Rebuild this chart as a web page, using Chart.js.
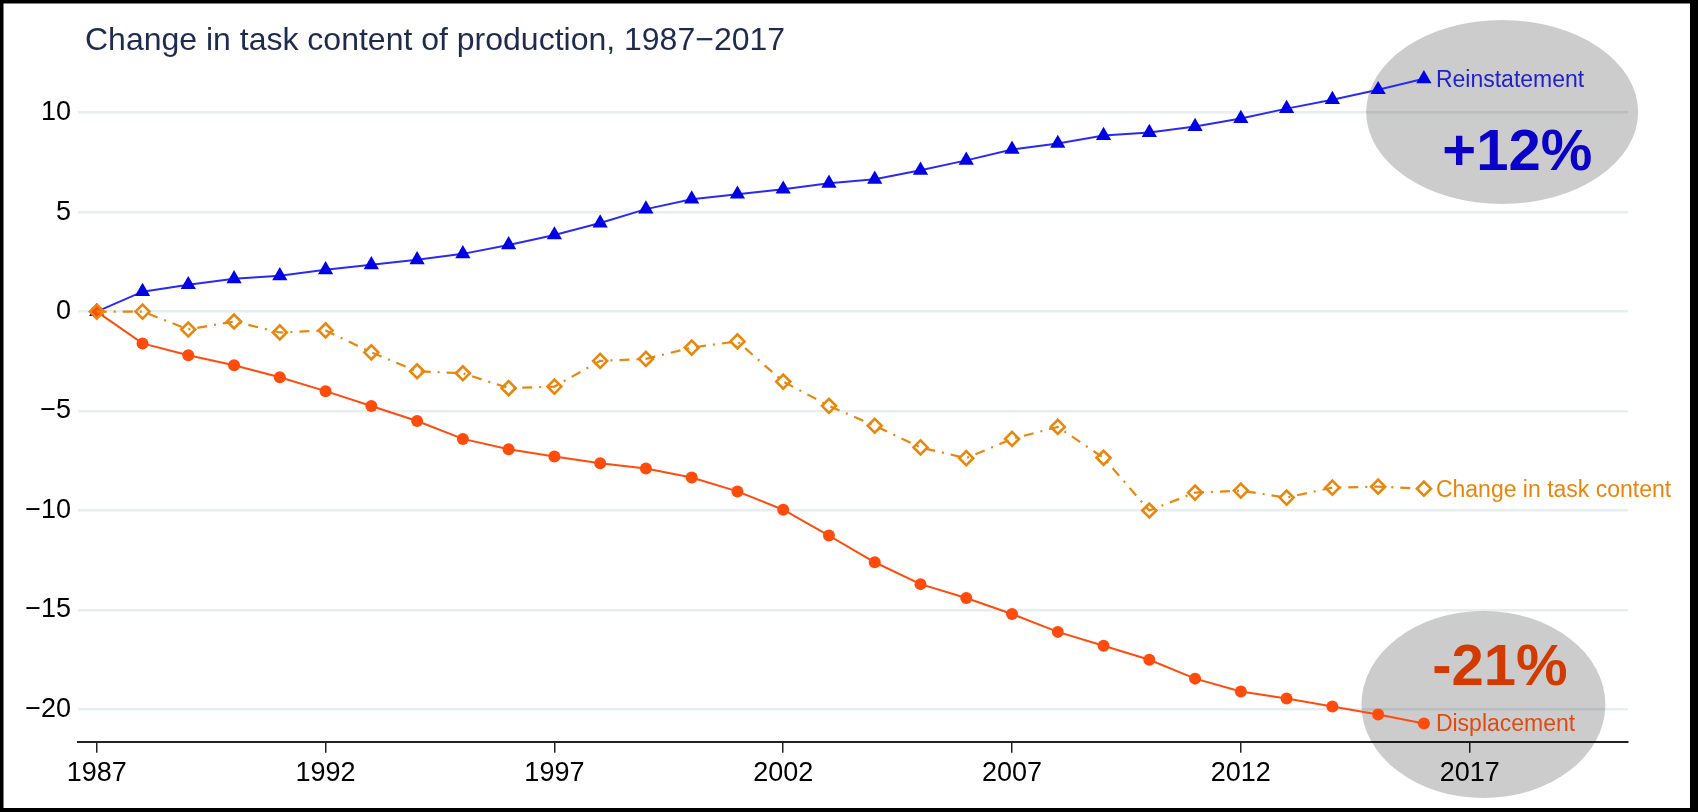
<!DOCTYPE html>
<html>
<head>
<meta charset="utf-8">
<script src="https://cdn.jsdelivr.net/npm/chart.js@4/dist/chart.umd.min.js"></script>
<style>
html,body{margin:0;padding:0;background:#fff;overflow:hidden;}
#wrap{position:relative;width:1698px;height:812px;}
</style>
</head>
<body>
<div id="wrap"><canvas id="c"></canvas></div>
<script>
// ---- data ----
const years = [1987,1988,1989,1990,1991,1992,1993,1994,1995,1996,1997,1998,1999,2000,2001,2002,2003,2004,2005,2006,2007,2008,2009,2010,2011,2012,2013,2014,2015,2016];
const reinstatement = [0,1.0,1.35,1.65,1.8,2.1,2.35,2.6,2.9,3.35,3.85,4.45,5.15,5.65,5.9,6.15,6.45,6.65,7.1,7.6,8.15,8.45,8.85,9.0,9.3,9.7,10.2,10.65,11.15,11.7];
const displacement = [0,-1.6,-2.2,-2.7,-3.3,-4.0,-4.75,-5.5,-6.4,-6.92,-7.28,-7.62,-7.89,-8.34,-9.04,-9.96,-11.26,-12.6,-13.7,-14.4,-15.2,-16.1,-16.8,-17.5,-18.45,-19.1,-19.45,-19.85,-20.25,-20.7];
const taskChange = [0,0,-0.9,-0.5,-1.05,-0.95,-2.05,-3.0,-3.1,-3.85,-3.77,-2.48,-2.38,-1.81,-1.5,-3.52,-4.74,-5.74,-6.83,-7.37,-6.4,-5.8,-7.35,-10.0,-9.1,-9.0,-9.35,-8.85,-8.8,-8.9];
const xTickYears = [1987,1992,1997,2002,2007,2012,2017];
const yTickValues = [-20,-15,-10,-5,0,5,10];
const titleText = 'Change in task content of production, 1987\u22122017';
const seriesNames = ['Change in task content','Displacement','Reinstatement'];
const calloutTexts = ['+12%','-21%'];

const FONT = '"Liberation Sans", Arial, Helvetica, sans-serif';
const toPts = (vals) => years.map((yr, i) => ({x: yr, y: vals[i]}));

const decor = {
  id: 'decor',
  beforeDatasetsDraw(chart) {
    const {ctx, scales: {x, y}} = chart;
    ctx.save();
    ctx.fillStyle = 'rgba(0,0,0,0.2)';
    const ells = [
      {cx: 2017.71, cy: 10.03, rx: 136, ry: 92},
      {cx: 2017.3, cy: -19.75, rx: 122, ry: 93.5}
    ];
    ells.forEach(e => {
      ctx.beginPath();
      ctx.ellipse(x.getPixelForValue(e.cx), y.getPixelForValue(e.cy), e.rx, e.ry, 0, 0, Math.PI * 2);
      ctx.fill();
    });
    ctx.restore();
  },
  afterDatasetsDraw(chart) {
    const {ctx, scales: {x, y}} = chart;
    ctx.save();
    const colors = ['#e8860c', '#e04a12', '#2020cc'];
    chart.data.datasets.forEach((ds, i) => {
      const meta = chart.getDatasetMeta(i);
      const last = meta.data[meta.data.length - 1];
      ctx.font = '23px ' + FONT;
      ctx.fillStyle = colors[i];
      ctx.textAlign = 'left';
      ctx.textBaseline = 'alphabetic';
      ctx.fillText(seriesNames[i], last.x + 12, last.y + 8);
    });
    ctx.font = 'bold 58px ' + FONT;
    ctx.textAlign = 'center';
    ctx.fillStyle = '#0a00c8';
    ctx.fillText(calloutTexts[0], x.getPixelForValue(2018.04), y.getPixelForValue(7.12));
    ctx.fillStyle = '#d13b00';
    ctx.fillText(calloutTexts[1], x.getPixelForValue(2017.66), y.getPixelForValue(-18.77));
    ctx.restore();
  },
  afterDraw(chart) {
    const {ctx} = chart;
    ctx.save();
    ctx.font = '32px ' + FONT;
    ctx.fillStyle = '#1f2a4f';
    ctx.textAlign = 'left';
    ctx.textBaseline = 'alphabetic';
    ctx.fillText(titleText, 85, 50);
    ctx.fillStyle = '#000';
    ctx.fillRect(0, 0, 1698, 3.5);
    ctx.fillRect(0, 0, 3.5, 812);
    ctx.fillRect(0, 808, 1698, 4);
    ctx.fillRect(1690, 0, 8, 812);
    ctx.restore();
  }
};

new Chart(document.getElementById('c'), {
  type: 'line',
  data: {
    datasets: [
      {
        label: seriesNames[0],
        data: toPts(taskChange),
        borderColor: '#e8870c',
        borderWidth: 2.2,
        borderDash: [10, 7, 2, 7],
        pointStyle: 'rectRot',
        pointRadius: 7,
        pointBorderWidth: 2.6,
        pointBorderColor: '#e8870c',
        pointBackgroundColor: 'rgba(0,0,0,0)',
        tension: 0,
        clip: false
      },
      {
        label: seriesNames[1],
        data: toPts(displacement),
        borderColor: '#ff4c0c',
        borderWidth: 2,
        pointStyle: 'circle',
        pointRadius: 6,
        pointBorderWidth: 0,
        pointBackgroundColor: '#ff4c0c',
        tension: 0,
        clip: false
      },
      {
        label: seriesNames[2],
        data: toPts(reinstatement),
        borderColor: '#2a2af0',
        borderWidth: 2,
        pointStyle: 'triangle',
        pointRadius: 8.8,
        pointBorderWidth: 0,
        pointBackgroundColor: '#0000e6',
        tension: 0,
        clip: false
      }
    ]
  },
  options: {
    responsive: true,
    maintainAspectRatio: false,
    animation: false,
    devicePixelRatio: 1,
    layout: {padding: {top: 60, right: 70, left: 0, bottom: 0}},
    plugins: {legend: {display: false}, title: {display: false}, tooltip: {enabled: false}},
    scales: {
      x: {
        type: 'linear',
        min: 1986.59,
        max: 2020.46,
        afterBuildTicks: (s) => { s.ticks = xTickYears.map(v => ({value: v})); },
        afterFit: (s) => { s.height = 70.3; },
        ticks: {
          color: '#000',
          font: {family: FONT, size: 27},
          padding: 5,
          maxRotation: 0,
          autoSkip: false,
          callback: (v) => String(v)
        },
        grid: {
          drawOnChartArea: false,
          drawTicks: true,
          tickLength: 11,
          color: '#222',
          lineWidth: 1.5
        },
        border: {display: true, color: '#222', width: 2}
      },
      y: {
        type: 'linear',
        min: -21.62,
        max: 12.644,
        afterBuildTicks: (s) => { s.ticks = yTickValues.map(v => ({value: v})); },
        afterFit: (s) => { s.width = 78; },
        ticks: {
          color: '#000',
          font: {family: FONT, size: 27},
          padding: 7,
          autoSkip: false,
          callback: (v) => String(v).replace('-', '\u2212')
        },
        grid: {
          drawTicks: false,
          color: '#e6eef0',
          lineWidth: 2.5
        },
        border: {display: false}
      }
    }
  },
  plugins: [decor]
});
</script>
</body>
</html>
